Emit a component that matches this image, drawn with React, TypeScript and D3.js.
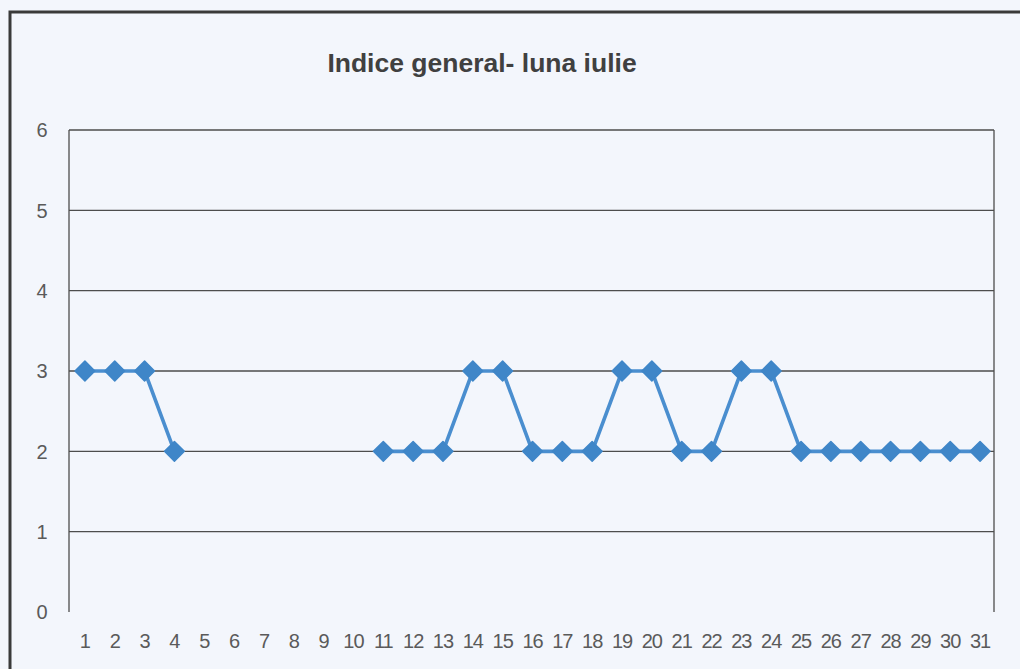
import React, { useEffect, useRef } from 'react';
import * as d3 from 'd3';

const days = d3.range(1, 32).map(String);
// null = no reading that day
const values: (number | null)[] = [
  3, 3, 3, 2, null, null, null, null, null, null,
  2, 2, 2, 3, 3, 2, 2, 2, 3, 3,
  2, 2, 3, 3, 2, 2, 2, 2, 2, 2, 2,
];
const yTicks = [0, 1, 2, 3, 4, 5, 6];
const title = 'Indice general- luna iulie';

const W = 1020;
const H = 669;
const margin = { top: 130, right: 26, bottom: 57, left: 69 };

const App = () => {
  const ref = useRef<SVGSVGElement>(null);

  useEffect(() => {
    const svg = d3.select(ref.current);
    svg.selectAll('*').remove();

    svg.append('rect').attr('width', W).attr('height', H).attr('fill', '#f3f6fc');

    // outer frame (cut at the right and bottom edges of the scan)
    svg.append('path')
      .attr('d', `M10,${H + 5} V12 H${W + 5}`)
      .attr('fill', 'none')
      .attr('stroke', '#3a3a3a')
      .attr('stroke-width', 3);

    const x = d3.scaleBand()
      .domain(days)
      .range([margin.left, W - margin.right]);

    const y = d3.scaleLinear()
      .domain([0, 6])
      .range([H - margin.bottom, margin.top]);

    // gridlines
    svg.append('g')
      .selectAll('line')
      .data(yTicks.filter((d) => d > 0))
      .enter()
      .append('line')
      .attr('x1', margin.left)
      .attr('x2', W - margin.right)
      .attr('y1', (d) => y(d))
      .attr('y2', (d) => y(d))
      .attr('stroke', '#4d4d4d')
      .attr('stroke-width', 1.3);

    // left axis & right border
    [margin.left, W - margin.right].forEach((px) => {
      svg.append('line')
        .attr('x1', px)
        .attr('x2', px)
        .attr('y1', y(6))
        .attr('y2', y(0))
        .attr('stroke', '#4d4d4d')
        .attr('stroke-width', 1.3);
    });

    const font = 'Arial, "Liberation Sans", sans-serif';

    svg.append('g')
      .selectAll('text')
      .data(yTicks)
      .enter()
      .append('text')
      .attr('x', 42)
      .attr('y', (d) => y(d))
      .attr('dy', '0.36em')
      .attr('text-anchor', 'middle')
      .attr('font-family', font)
      .attr('font-size', 20)
      .attr('fill', '#5a5a5a')
      .text((d) => d);

    svg.append('g')
      .selectAll('text')
      .data(days)
      .enter()
      .append('text')
      .attr('x', (d) => (x(d) as number) + x.bandwidth() / 2 + 1)
      .attr('y', 648)
      .attr('text-anchor', 'middle')
      .attr('font-family', font)
      .attr('font-size', 20)
      .attr('letter-spacing', -1)
      .attr('fill', '#5a5a5a')
      .text((d) => d);

    svg.append('text')
      .attr('x', 482)
      .attr('y', 72)
      .attr('text-anchor', 'middle')
      .attr('font-family', font)
      .attr('font-weight', 'bold')
      .attr('font-size', 26.5)
      .attr('fill', '#404040')
      .text(title);

    const pts = days.map((d, i) => ({ d, v: values[i] }));
    const cx = (d: string) => (x(d) as number) + x.bandwidth() / 2 + 1;

    const line = d3.line<{ d: string; v: number | null }>()
      .defined((p) => p.v !== null)
      .x((p) => cx(p.d))
      .y((p) => y(p.v as number));

    svg.append('path')
      .datum(pts)
      .attr('d', line)
      .attr('fill', 'none')
      .attr('stroke', '#4a8ecf')
      .attr('stroke-width', 3.6);

    const diamond = d3.symbol(d3.symbolDiamond2, 250);
    svg.append('g')
      .selectAll('path')
      .data(pts.filter((p) => p.v !== null))
      .enter()
      .append('path')
      .attr('d', diamond)
      .attr('transform', (p) => `translate(${cx(p.d)},${y(p.v as number)})`)
      .attr('fill', '#3f86c8')
      .attr('stroke', '#3f86c8')
      .attr('stroke-width', 1.5)
      .attr('stroke-linejoin', 'round');
  }, []);

  return <svg ref={ref} width={W} height={H} style={{ display: 'block', position: 'absolute', left: 0, top: 0 }} />;
};

export default App;
